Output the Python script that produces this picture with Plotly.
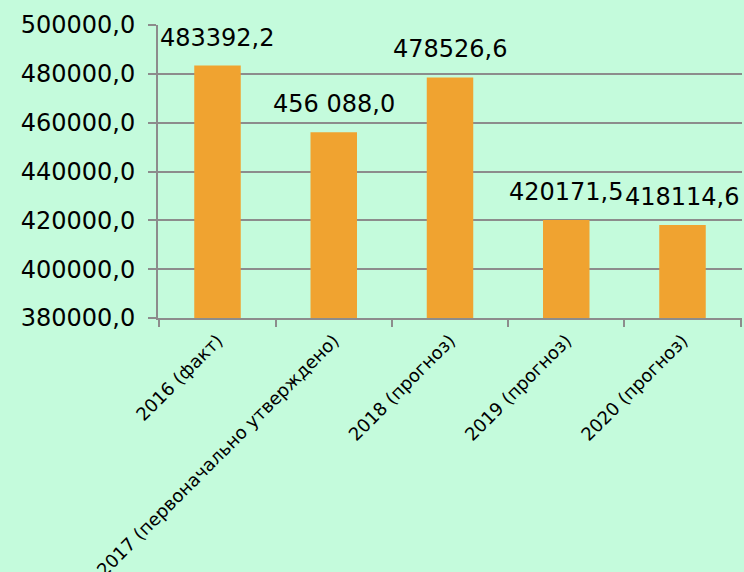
import plotly.graph_objects as go

categories = ["2016 (факт)", "2017 (первоначально утверждено)", "2018 (прогноз)",
              "2019 (прогноз)", "2020 (прогноз)"]
values = [483392.2, 456088.0, 478526.6, 420171.5, 418114.6]
value_labels = ["483392,2", "456 088,0", "478526,6", "420171,5", "418114,6"]
y_tick_values = [380000, 400000, 420000, 440000, 460000, 480000, 500000]
y_tick_labels = ["380000,0", "400000,0", "420000,0", "440000,0", "460000,0", "480000,0", "500000,0"]

FONT = "DejaVu Sans"
BG = "#c4fbdc"

fig = go.Figure(go.Bar(
    x=categories, y=values, width=0.4,
    marker=dict(color="#F0A330", line=dict(width=0)),
    hoverinfo="x+y",
))

for c, v, t in zip(categories, values, value_labels):
    fig.add_annotation(
        x=c, y=v, text=t, showarrow=False, xanchor="center", yanchor="bottom",
        yshift=12, font=dict(family=FONT, size=24, color="#000000"),
    )

fig.update_layout(
    width=744, height=572,
    margin=dict(l=158, r=2, t=25, b=254),
    paper_bgcolor=BG, plot_bgcolor=BG,
    showlegend=False,
    font=dict(family=FONT, color="#000000"),
)
fig.update_xaxes(
    type="category", showline=True, linecolor="#8c8c8c", linewidth=2,
    ticks="outside", tickson="boundaries", ticklen=7, tickcolor="#8c8c8c", tickwidth=2,
    tickangle=-45, tickfont=dict(family=FONT, size=18), automargin=False,
    showgrid=False, ticklabelstandoff=3,
)
fig.update_yaxes(
    range=[380000, 500000], tickvals=y_tick_values, ticktext=y_tick_labels,
    showline=True, linecolor="#8c8c8c", linewidth=2,
    ticks="outside", ticklen=8, tickcolor="#8c8c8c", tickwidth=2,
    showgrid=True, gridcolor="#8c8c8c", gridwidth=2,
    tickfont=dict(family=FONT, size=24), automargin=False, zeroline=False,
    ticklabelstandoff=8,
)
fig.write_html("out.html", config={"displayModeBar": False},
               post_script="document.body.style.margin='0';document.body.style.padding='0';document.body.style.overflow='hidden';")
